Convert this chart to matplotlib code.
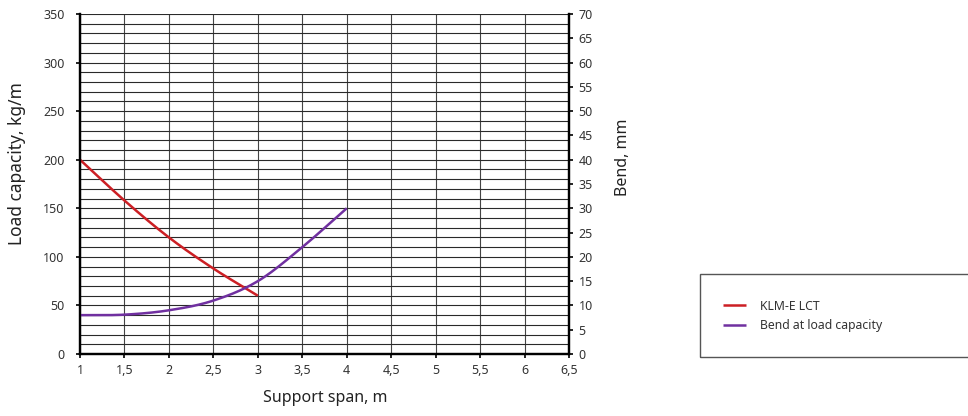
import numpy as np
import matplotlib
matplotlib.use("Agg")
import matplotlib.pyplot as plt
from matplotlib.patches import Rectangle
from matplotlib.ticker import FixedLocator, MultipleLocator

# ---- data ----
span_load = [1, 1.5, 2, 2.5, 3]
load_klm = [200, 158, 120, 88, 60]
span_bend = [1, 1.5, 2, 2.5, 3, 3.5, 4]
bend_mm = [8, 8.1, 9, 11, 15, 22, 30]
x_ticks = [1, 1.5, 2, 2.5, 3, 3.5, 4, 4.5, 5, 5.5, 6, 6.5]
left_ticks = [0, 50, 100, 150, 200, 250, 300, 350]
right_ticks = [0, 5, 10, 15, 20, 25, 30, 35, 40, 45, 50, 55, 60, 65, 70]
series_names = ["KLM-E LCT", "Bend at load capacity"]
x_label = "Support span, m"
y_label = "Load capacity, kg/m"
y2_label = "Bend, mm"

plt.rcParams['font.family'] = ['Noto Sans', 'DejaVu Sans']

RED = '#CC1F24'
PURPLE = '#7030A0'
W, H = 968, 416


def smooth(x, y, n=40):
    """Catmull-Rom curve through the given points (Excel-like smoothed line)."""
    x = np.asarray(x, float)
    y = np.asarray(y, float)
    px = np.concatenate([[2 * x[0] - x[1]], x, [2 * x[-1] - x[-2]]])
    py = np.concatenate([[2 * y[0] - y[1]], y, [2 * y[-1] - y[-2]]])
    xs, ys = [], []
    t = np.linspace(0, 1, n)
    for i in range(1, len(px) - 2):
        p0, p1, p2, p3 = (np.array([px[j], py[j]]) for j in (i - 1, i, i + 1, i + 2))
        tt = t[:, None]
        pts = 0.5 * ((2 * p1) + (-p0 + p2) * tt + (2 * p0 - 5 * p1 + 4 * p2 - p3) * tt ** 2
                     + (-p0 + 3 * p1 - 3 * p2 + p3) * tt ** 3)
        xs.append(pts[:, 0])
        ys.append(pts[:, 1])
    return np.concatenate(xs), np.concatenate(ys)


fig = plt.figure(figsize=(W / 100, H / 100), dpi=100)
ax = fig.add_axes([80 / W, (H - 354) / H, (569 - 80) / W, (354 - 14) / H])
ax2 = ax.twinx()

ax.set_xlim(1, 6.5)
ax.set_ylim(0, 350)
ax2.set_ylim(0, 70)

# grid
ax.yaxis.set_minor_locator(MultipleLocator(10))
ax.grid(which='both', axis='y', color='#2a2a2a', lw=0.8)
ax.grid(which='major', axis='x', color='#444444', lw=0.8)
ax.set_axisbelow(True)
ax.tick_params(axis='y', which='minor', length=0)

sx, sy = smooth(span_load, load_klm)
l1, = ax.plot(sx, sy, color=RED, lw=1.8, solid_capstyle='butt', label=series_names[0])
bx, by = smooth(span_bend, bend_mm)
l2, = ax2.plot(bx, by, color=PURPLE, lw=1.8, solid_capstyle='butt', label=series_names[1])

ax.xaxis.set_major_locator(FixedLocator(x_ticks))
ax.set_xticklabels([f"{v:g}".replace('.', ',') for v in x_ticks])
ax.yaxis.set_major_locator(FixedLocator(left_ticks))
ax.set_yticklabels([str(v) for v in left_ticks])
ax2.yaxis.set_major_locator(FixedLocator(right_ticks))
ax2.set_yticklabels([str(v) for v in right_ticks])

for a in (ax, ax2):
    a.spines['top'].set_visible(False)
    for s in ('left', 'right', 'bottom'):
        a.spines[s].set_linewidth(1.6)
        a.spines[s].set_color('black')
ax.tick_params(axis='both', which='major', direction='out', length=3, width=1.2,
               labelsize=9, labelcolor='#333333', pad=8)
ax.tick_params(axis='x', pad=4)
ax2.tick_params(axis='y', direction='out', length=3, width=1.2, labelsize=9,
                labelcolor='#333333', pad=4)

ax.set_xlabel(x_label, fontsize=11.5, color='#222222')
ax.xaxis.set_label_coords((325 - 80) / 489, -(398 - 354) / 340)
ax.set_ylabel(y_label, fontsize=12.5, color='#222222')
ax.yaxis.set_label_coords(-0.129, 0.56)
ax2.set_ylabel(y2_label, fontsize=11.5, color='#222222')
ax2.yaxis.set_label_coords(1.110, 0.58)
ax.xaxis.label.set_va('center')
ax.yaxis.label.set_va('center')
ax2.yaxis.label.set_va('center')

# legend box
fig.patches.append(Rectangle((700 / W, (H - 357) / H), (W - 700 + 5) / W, 83 / H,
                             transform=fig.transFigure, fill=False,
                             edgecolor='#555555', lw=1.0))
fig.legend(handles=[l1, l2], labels=series_names, loc='center left',
           bbox_to_anchor=(723 / W, (H - 316) / H), frameon=False, fontsize=8.8,
           borderpad=0, borderaxespad=0, handlelength=1.9, handletextpad=1.1,
           labelspacing=0.55, labelcolor='#333333')

fig.savefig('out.png', dpi=100)
